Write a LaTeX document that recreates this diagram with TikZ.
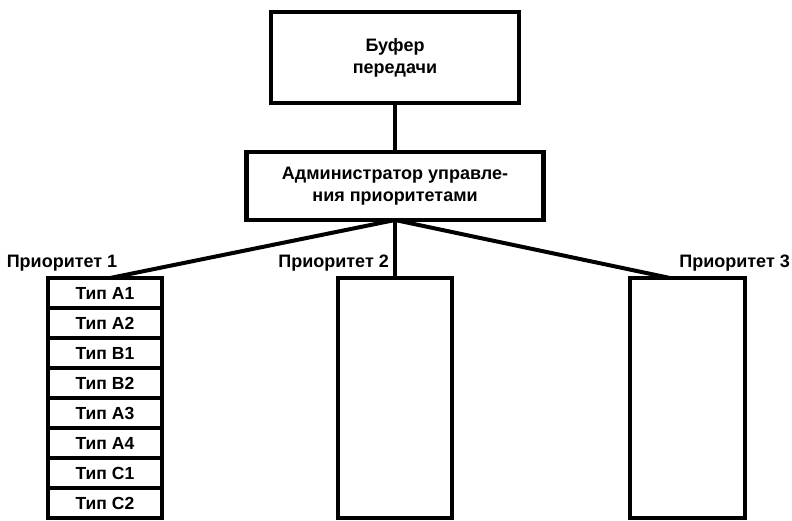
\documentclass[tikz,border=0pt]{standalone}
\usepackage{fontspec}
\setmainfont{Liberation Sans}
\begin{document}
\begin{tikzpicture}[x=1pt,y=-1pt,
  box/.style={draw,line width=4.5pt,inner sep=0pt,outer sep=0pt,font=\bfseries\fontsize{18}{22}\selectfont,align=center},
  cell/.style={draw,line width=4.5pt,inner sep=0pt,outer sep=0pt,minimum width=114pt,minimum height=30pt,font=\bfseries\fontsize{17.5}{19}\selectfont},
  lbl/.style={inner sep=0pt,font=\bfseries\fontsize{18}{20}\selectfont},
  conn/.style={line width=4pt}]
\useasboundingbox (0,0) rectangle (792,520);
\node[box,minimum width=248pt,minimum height=91pt] (buf) at (395,57.5) {Буфер\\передачи};
\node[box,minimum width=297pt,minimum height=68pt] (adm) at (395,186) {Администратор управле-\\ния приоритетами};
\draw[conn] (buf.south) -- (adm.north);
\foreach \t [count=\i] in {Тип A1,Тип A2,Тип B1,Тип B2,Тип A3,Тип A4,Тип C1,Тип C2}{
  \node[cell] (c\i) at (105,{278+30*\i-15}) {\t};
}
\node[box,minimum width=114pt,minimum height=240pt] (p2) at (395,398) {};
\node[box,minimum width=115pt,minimum height=240pt] (p3) at (687.5,398) {};
\coordinate (t1) at (110,278);
\coordinate (t3) at (670,278);
\draw[conn] (adm.south) -- (t1);
\draw[conn] (adm.south) -- (p2.north);
\draw[conn] (adm.south) -- (t3);
\node[lbl] (l1) at (62,263) {Приоритет 1};
\node[lbl,anchor=east] (l2) at (389,263) {Приоритет 2};
\node[lbl,anchor=east] (l3) at (790,263) {Приоритет 3};
\end{tikzpicture}
\end{document}
